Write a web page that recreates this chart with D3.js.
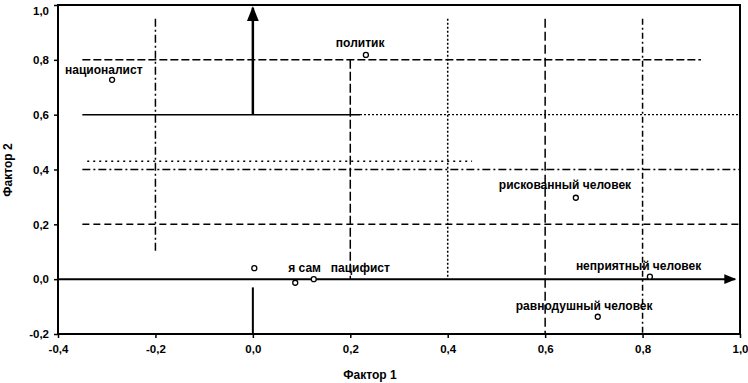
<!DOCTYPE html>
<html><head><meta charset="utf-8">
<script src="https://cdn.jsdelivr.net/npm/d3@7"></script>
<style>
body{margin:0;background:#fff;}
text{font-family:"Liberation Sans",Arial,sans-serif;}
</style></head>
<body><svg id="c" width="748" height="383"></svg>
<script>
const xTicks = [-0.4,-0.2,0.0,0.2,0.4,0.6,0.8,1.0];
const yTicks = [-0.2,0.0,0.2,0.4,0.6,0.8,1.0];
const labels = ["националист","политик","рискованный человек","неприятный человек","равнодушный человек","я сам","пацифист",""];
const factor1 = [-0.289,0.232,0.663,0.815,0.708,0.087,0.125,0.003];
const factor2 = [0.727,0.818,0.297,0.009,-0.137,-0.013,0.000,0.040];
// reference grid lines (value, from, to)
const hLines = [[0.8,-0.35,0.92,"8,3"],[0.4,-0.35,1.0,"8,3,2,3"],[0.2,-0.35,1.0,"7,4"],[0.43,-0.34,0.45,"2,4"]];
const vLines = [[-0.2,0.95,0.1,"8,3,2,3"],[0.2,0.8,0.0,"9,3"],[0.4,0.95,0.0,"2,2"],[0.6,0.95,-0.2,"9,4"],[0.8,0.95,-0.2,"6,3,2,3"]];

const W=748,H=383,m={l:58,r:8,t:5,b:49};
const svg=d3.select("#c");
const x=d3.scaleLinear().domain([-0.4,1.0]).range([m.l,W-m.r]);
const y=d3.scaleLinear().domain([-0.2,1.0]).range([H-m.b,m.t]);
const fmt=d=>d3.format(".1f")(d).replace(".",",").replace("−","-");

// grid lines
hLines.forEach(([v,a,b,da])=>svg.append("line").attr("x1",x(a)).attr("x2",x(b)).attr("y1",y(v)).attr("y2",y(v))
  .attr("stroke","#000").attr("stroke-width",1.5).attr("stroke-dasharray",da));
vLines.forEach(([v,a,b,da])=>svg.append("line").attr("x1",x(v)).attr("x2",x(v)).attr("y1",y(a)).attr("y2",y(b))
  .attr("stroke","#000").attr("stroke-width",1.5).attr("stroke-dasharray",da));
// y=0.6 line: solid then dotted
svg.append("line").attr("x1",x(-0.35)).attr("x2",x(0.22)).attr("y1",y(0.6)).attr("y2",y(0.6)).attr("stroke","#000").attr("stroke-width",1.5);
svg.append("line").attr("x1",x(0.22)).attr("x2",x(1.0)).attr("y1",y(0.6)).attr("y2",y(0.6)).attr("stroke","#000").attr("stroke-width",1.2).attr("stroke-dasharray","2,2");

// main axes through origin with arrows
svg.append("defs").append("marker").attr("id","ar").attr("viewBox","0 0 10 10").attr("refX",9).attr("refY",5)
  .attr("markerWidth",6).attr("markerHeight",6).attr("orient","auto")
  .append("path").attr("d","M0,1L10,5L0,9Z").attr("fill","#000");
svg.append("line").attr("x1",x(-0.4)).attr("x2",x(0.99)).attr("y1",y(0)).attr("y2",y(0))
  .attr("stroke","#000").attr("stroke-width",2).attr("marker-end","url(#ar)");
svg.append("line").attr("x1",x(0)).attr("x2",x(0)).attr("y1",y(0.6)).attr("y2",y(0.99))
  .attr("stroke","#000").attr("stroke-width",2.5).attr("marker-end","url(#ar)");
svg.append("line").attr("x1",x(0)).attr("x2",x(0)).attr("y1",y(-0.2)).attr("y2",y(-0.03))
  .attr("stroke","#000").attr("stroke-width",2);

// axes
const gx=svg.append("g").attr("transform",`translate(0,${H-m.b})`).call(d3.axisBottom(x).tickValues(xTicks).tickFormat(fmt).tickSize(4).tickPadding(7));
const gy=svg.append("g").attr("transform",`translate(${m.l},0)`).call(d3.axisLeft(y).tickValues(yTicks).tickFormat(fmt).tickSize(4).tickPadding(5));
[gx,gy].forEach(g=>{g.select(".domain").remove();g.selectAll("text").attr("font-size",11.5).attr("font-weight","bold").attr("fill","#000");g.selectAll("line").attr("stroke","#000").attr("stroke-width",1.5);});
gy.selectAll("text").filter(d=>d===1.0).attr("dy","0.85em");
svg.append("rect").attr("x",m.l).attr("y",m.t).attr("width",W-m.l-m.r).attr("height",H-m.t-m.b)
  .attr("fill","none").attr("stroke","#000").attr("stroke-width",2);

svg.append("text").attr("x",370).attr("y",379).attr("text-anchor","middle").attr("font-size",12).attr("font-weight","bold").text("Фактор 1");
svg.append("text").attr("transform","translate(12,170) rotate(-90)").attr("text-anchor","middle").attr("font-size",12).attr("font-weight","bold").text("Фактор 2");

// points
const off=[[-47,-6],[-30,-8],[-77,-9],[-74,-7],[-82,-7],[-7,-11],[17,-7],[0,0]];
labels.forEach((l,i)=>{
  svg.append("circle").attr("cx",x(factor1[i])).attr("cy",y(factor2[i])).attr("r",2.5).attr("fill","#fff").attr("stroke","#000").attr("stroke-width",1.3);
  if(l) svg.append("text").attr("x",x(factor1[i])+off[i][0]).attr("y",y(factor2[i])+off[i][1]).attr("font-size",12).attr("font-weight","bold").text(l);
});
</script></body></html>
